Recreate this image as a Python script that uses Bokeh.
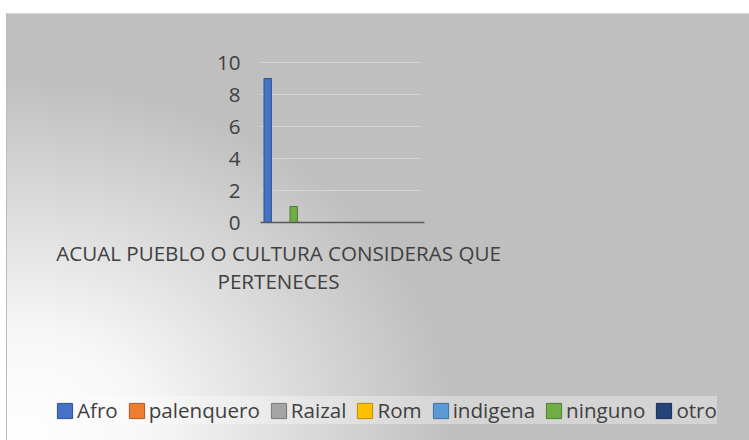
from bokeh.plotting import figure
from bokeh.models import Range1d, Legend, LegendItem, Label, FixedTicker
from bokeh.embed import file_html
from bokeh.resources import INLINE

# ---- data ----
series = ["Afro", "palenquero", "Raizal", "Rom", "indigena", "ninguno", "otro"]
values = [9, 0, 0, 0, 0, 1, 0]
fill_colors = ["#4472C4", "#ED7D31", "#A5A5A5", "#FFC000", "#5B9BD5", "#70AD47", "#264478"]
line_colors = ["#2F528F", "#AE5A21", "#787878", "#BC8C00", "#41719C", "#507E32", "#1A2F55"]
y_ticks = [0, 2, 4, 6, 8, 10]
title_lines = ["ACUAL PUEBLO O CULTURA CONSIDERAS QUE", "PERTENECES"]

TEXT = "#404040"
FONT = "Open Sans"
FS = "20.6px"
W, H = 749, 440

# layout (pixels): frame spans the whole chart box, the bar area is a window in it
FL, FR, FT, FB = 44, 722, 40, 432
Y10 = 62                   # screen y of value 10
PX_PER_SLOT = 5.2          # horizontal pixels per series slot
PX_PER_UNIT = 16.0         # vertical pixels per value unit
AFRO_CX = 267.2            # screen x of first series slot
AREA_L, AREA_R, AREA_R_GRID = 260, 424, 420

x0 = -(AFRO_CX - FL) / PX_PER_SLOT
x1 = x0 + (FR - FL) / PX_PER_SLOT
y1 = 10 + (Y10 - FT) / PX_PER_UNIT
y0 = y1 - (FB - FT) / PX_PER_UNIT
area_x0 = (AREA_L - AFRO_CX) / PX_PER_SLOT
area_x1 = (AREA_R - AFRO_CX) / PX_PER_SLOT
grid_x1 = (AREA_R_GRID - AFRO_CX) / PX_PER_SLOT

p = figure(
    width=W, height=H,
    output_backend="svg", toolbar_location=None,
    x_range=Range1d(x0, x1), y_range=Range1d(y0, y1),
    min_border_left=FL, min_border_right=W - FR,
    min_border_top=FT, min_border_bottom=H - FB,
)
p.background_fill_alpha = 0
p.border_fill_alpha = 0
p.outline_line_color = None
p.styles = {
    "background": "linear-gradient(#ffffff,#ffffff) 0 0 / 100% 13px no-repeat, "
                  "linear-gradient(#ffffff,#ffffff) 0 0 / 6px 100% no-repeat, "
                  "linear-gradient(#bcbcbc,#bcbcbc) 6px 0 / 1px 100% no-repeat, "
                  "linear-gradient(#d8d8d8,#d8d8d8) 0 13px / 100% 1px no-repeat, "
                  "radial-gradient(ellipse 440px 360px at 16px 440px, #ffffff 0%, #f7f7f7 30%, #bfbfbf 100%)"
}

# y axis drawn at the left edge of the bar area
p.yaxis.fixed_location = area_x0
p.yaxis.bounds = (0, 10)
p.yaxis.ticker = FixedTicker(ticks=y_ticks)
p.yaxis.axis_line_color = None
p.yaxis.major_tick_line_color = None
p.yaxis.minor_tick_line_color = None
p.yaxis.major_tick_out = 0
p.yaxis.major_tick_in = 0
p.yaxis.major_label_text_font = FONT
p.yaxis.major_label_text_font_size = FS
p.yaxis.major_label_text_color = TEXT
p.yaxis.major_label_standoff = 20

# x axis drawn at value 0
p.xaxis.fixed_location = 0
p.xaxis.bounds = (area_x0, area_x1)
p.xaxis.ticker = FixedTicker(ticks=[])
p.xaxis.axis_line_color = "#595959"
p.xaxis.axis_line_width = 1.5
p.xaxis.major_tick_line_color = None
p.xaxis.minor_tick_line_color = None
p.xaxis.major_tick_out = 0
p.xaxis.major_tick_in = 0
p.xaxis.major_label_standoff = 0

p.xgrid.visible = False
p.ygrid.ticker = FixedTicker(ticks=y_ticks)
p.ygrid.grid_line_color = "#d6d6d6"
p.ygrid.grid_line_width = 1
try:
    p.ygrid.cross_bounds = (area_x0, grid_x1)
except Exception:
    pass

items = []
for i, name in enumerate(series):
    r = p.vbar(x=[i], top=[values[i]], bottom=0, width=1.42,
               fill_color=fill_colors[i], line_color=line_colors[i], line_width=1)
    items.append(LegendItem(label=name, renderers=[r]))

legend = Legend(
    items=items, orientation="horizontal", location=(11, 8),
    label_text_font=FONT, label_text_font_size=FS, label_text_color=TEXT,
    glyph_width=19, glyph_height=19, label_standoff=3, spacing=9,
    padding=9, margin=0,
    background_fill_color="white", background_fill_alpha=0.33,
    border_line_color=None,
)
p.add_layout(legend)

for k, line in enumerate(title_lines):
    p.add_layout(Label(
        x=278 - FL, y=(FB - 252) - 28 * k, x_units="screen", y_units="screen",
        text=line, text_align="center", text_baseline="alphabetic",
        text_font=FONT, text_font_size=FS, text_color=TEXT,
    ))

open("out.html", "w").write(file_html(p, INLINE))
